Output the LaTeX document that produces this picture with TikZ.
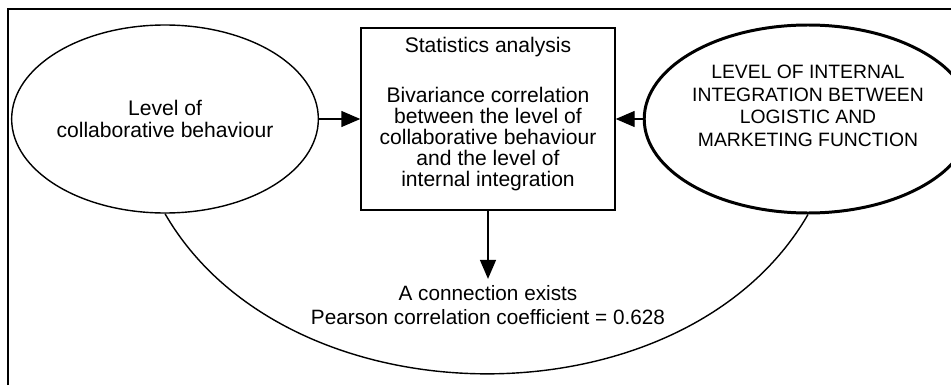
\documentclass[tikz,border=0pt]{standalone}
\usepackage{fontspec}
\setmainfont{Liberation Sans}
\usetikzlibrary{shapes.geometric,arrows.meta}
\begin{document}
\begin{tikzpicture}[font=\fontsize{12}{12}\selectfont, line width=0.8pt,
		oval/.style={draw, ellipse, inner sep=0pt, minimum width=5.65cm, minimum height=3.76cm, align=center},
		arr/.style={-{Triangle[length=3.8mm,width=3.2mm]}}]
	\useasboundingbox (0,0) rectangle (19.02,7.7);
	% frame
	\draw (0.16,0) -- (0.16,7.52) -- (19.02,7.52);
	\node[oval] (lev) at (3.3,5.32) {Level of\\collaborative behaviour};
	\node[draw, minimum width=5.08cm, minimum height=3.64cm, inner sep=2pt, align=center] (stat) at (9.76,5.32)
		{Statistics analysis\\[16pt]Bivariance correlation\\between the level of\\collaborative behaviour\\and the level of\\internal integration\\[-4pt]};
	\node[oval, line width=1.7pt, font=\fontsize{11}{13}\selectfont] (integ) at (16.16,5.32)
		{LEVEL OF INTERNAL\\INTEGRATION BETWEEN\\LOGISTIC AND\\MARKETING FUNCTION\\[2pt]};
	\node[align=center, font=\fontsize{11.8}{13.6}\selectfont] (res) at (9.76,1.6)
		{A connection exists\\Pearson correlation coefficient = 0.628};
	\draw[arr] (lev) -- (stat);
	\draw[arr] (integ) -- (stat);
	\draw[arr] (stat) -- (stat.south |- res.north);
	%\draw (lev.south) to[out=-60,in=-120] (integ.south);
	\draw (lev.south) .. controls +(2.46,-4.26) and +(-2.46,-4.26) .. (integ.south);
\end{tikzpicture}
\end{document}
